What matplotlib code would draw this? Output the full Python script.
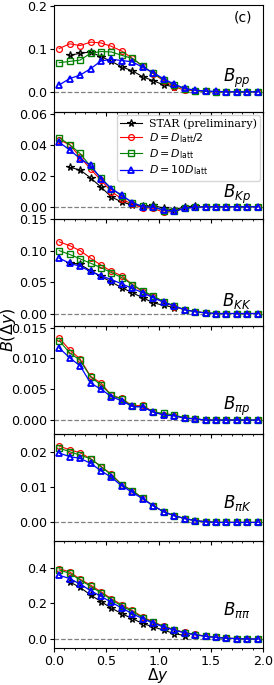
import numpy as np
import matplotlib
matplotlib.use("Agg")
import matplotlib.pyplot as plt
from matplotlib.ticker import MultipleLocator

dy = np.arange(0.05, 2.0, 0.1)

# B_pp
pp_star = [0.085, 0.090, 0.093, 0.082, 0.071, 0.058, 0.049, 0.035, 0.026, 0.016, 0.012]
pp_half = [0.101, 0.112, 0.108, 0.116, 0.114, 0.106, 0.095, 0.078, 0.060, 0.042, 0.026, 0.012, 0.004, 0.003, 0.001, 0, 0, 0, 0, 0]
pp_one = [0.068, 0.071, 0.074, 0.090, 0.094, 0.093, 0.085, 0.078, 0.060, 0.043, 0.028, 0.016, 0.007, 0.003, 0.001, 0, 0, 0, 0, 0]
pp_ten = [0.016, 0.031, 0.039, 0.054, 0.072, 0.076, 0.073, 0.070, 0.057, 0.045, 0.030, 0.018, 0.008, 0.004, 0.002, 0.001, 0, 0, 0, 0]

# B_Kp
kp_star = [0.0254, 0.0237, 0.0186, 0.0127, 0.0063, 0.0030, 0.0012, 0.0002, 0.0010, -0.0010, -0.0020, 0.0000, 0.0004]
kp_half = [0.0430, 0.0400, 0.0320, 0.0243, 0.0170, 0.0098, 0.0050, 0.0015, -0.0005, -0.0010, -0.0036, -0.0030, -0.0010, -0.0003, 0, 0, 0, 0, 0, 0]
kp_one = [0.0444, 0.0400, 0.0343, 0.0260, 0.0186, 0.0116, 0.0070, 0.0027, 0.0002, 0.0000, -0.0025, -0.0030, -0.0010, -0.0002, 0, 0, 0, 0, 0, 0]
kp_ten = [0.0415, 0.0366, 0.0310, 0.0267, 0.0180, 0.0116, 0.0074, 0.0027, 0.0000, -0.0003, -0.0020, -0.0028, -0.0010, -0.0002, 0, 0, 0, 0, 0, 0]

# B_KK
kk_star = [0.081, 0.078, 0.068, 0.059, 0.050, 0.041, 0.033, 0.025, 0.017, 0.013, 0.0095]
kk_half = [0.114, 0.108, 0.100, 0.088, 0.077, 0.067, 0.060, 0.046, 0.034, 0.026, 0.018, 0.011, 0.006, 0.003, 0.001, 0, 0, 0, 0, 0]
kk_one = [0.100, 0.094, 0.087, 0.080, 0.073, 0.065, 0.057, 0.046, 0.036, 0.028, 0.019, 0.012, 0.006, 0.003, 0.001, 0, 0, 0, 0, 0]
kk_ten = [0.088, 0.080, 0.075, 0.067, 0.060, 0.054, 0.047, 0.040, 0.033, 0.025, 0.018, 0.012, 0.006, 0.003, 0.001, 0, 0, 0, 0, 0]

# B_pi p
pip_half = [0.0133, 0.0114, 0.0099, 0.0071, 0.0060, 0.0040, 0.0035, 0.0023, 0.0024, 0.0013, 0.0009, 0.0007, 0.0003, 0.0002, 0, 0, 0, 0, 0, 0]
pip_one = [0.0129, 0.0109, 0.0097, 0.0070, 0.0057, 0.0040, 0.0034, 0.0022, 0.0022, 0.0013, 0.0011, 0.0008, 0.0004, 0.0002, 0, 0, 0, 0, 0, 0]
pip_ten = [0.0117, 0.0101, 0.0088, 0.0060, 0.0050, 0.0038, 0.0031, 0.0022, 0.0021, 0.0013, 0.0008, 0.0007, 0.0003, 0.0002, 0, 0, 0, 0, 0, 0]

# B_pi K
pik_half = [0.0216, 0.0205, 0.0197, 0.0180, 0.0158, 0.0136, 0.0106, 0.0090, 0.0068, 0.0047, 0.0030, 0.0019, 0.0011, 0.0005, 0.0002, 0, 0, 0, 0, 0]
pik_one = [0.0210, 0.0200, 0.0190, 0.0180, 0.0158, 0.0134, 0.0106, 0.0090, 0.0068, 0.0047, 0.0030, 0.0019, 0.0011, 0.0005, 0.0002, 0, 0, 0, 0, 0]
pik_ten = [0.0196, 0.0186, 0.0181, 0.0167, 0.0146, 0.0127, 0.0103, 0.0085, 0.0066, 0.0047, 0.0030, 0.0019, 0.0011, 0.0005, 0.0002, 0, 0, 0, 0, 0]

# B_pi pi
pipi_star = [0.320, 0.289, 0.247, 0.210, 0.173, 0.142, 0.114, 0.087, 0.068, 0.050, 0.031, 0.020]
pipi_half = [0.394, 0.376, 0.335, 0.302, 0.265, 0.225, 0.192, 0.160, 0.123, 0.096, 0.072, 0.053, 0.037, 0.026, 0.017, 0.010, 0.005, 0.003, 0.001, 0.000]
pipi_one = [0.387, 0.368, 0.331, 0.295, 0.258, 0.221, 0.184, 0.155, 0.119, 0.093, 0.070, 0.052, 0.036, 0.025, 0.016, 0.009, 0.005, 0.003, 0.001, 0.000]
pipi_ten = [0.357, 0.339, 0.308, 0.271, 0.239, 0.206, 0.173, 0.142, 0.114, 0.089, 0.067, 0.050, 0.035, 0.024, 0.015, 0.009, 0.005, 0.002, 0.001, 0.000]

panels = [
    (r"$B_{pp}$", pp_star, pp_half, pp_one, pp_ten, (-0.047, 0.203), 0.1, 0.31),
    (r"$B_{Kp}$", kp_star, kp_half, kp_one, kp_ten, (-0.008, 0.061), 0.02, 0.23),
    (r"$B_{KK}$", kk_star, kk_half, kk_one, kk_ten, (-0.0205, 0.15), 0.05, 0.24),
    (r"$B_{\pi p}$", None, pip_half, pip_one, pip_ten, (-0.0022, 0.0152), 0.005, 0.25),
    (r"$B_{\pi K}$", None, pik_half, pik_one, pik_ten, (-0.0052, 0.0251), 0.01, 0.35),
    (r"$B_{\pi\pi}$", pipi_star, pipi_half, pipi_one, pipi_ten, (-0.05, 0.55), 0.2, 0.35),
]

fig, axes = plt.subplots(6, 1, figsize=(2.74, 6.85), dpi=100, sharex=True)
fig.subplots_adjust(left=0.197, right=0.96, top=0.993, bottom=0.054, hspace=0)

for ax, (name, star, half, one, ten, ylim, step, ty) in zip(axes, panels):
    ax.set_facecolor("none")
    ax.axhline(0, color="gray", ls="--", lw=0.9, zorder=0)
    if star is not None:
        ax.plot(dy[1:1 + len(star)], star, color="k", marker="*", ms=5.5, mfc="none",
                mew=0.9, lw=0.8, label="STAR (preliminary)")
    ax.plot(dy, half, color="red", marker="o", ms=4.2, mfc="none", mew=0.9, lw=0.8,
            label=r"$D = D_{\rm latt}/2$")
    ax.plot(dy, one, color="green", marker="s", ms=4.2, mfc="none", mew=1.0, lw=0.8,
            label=r"$D = D_{\rm latt}$")
    ax.plot(dy, ten, color="blue", marker="^", ms=4.5, mfc="none", mew=1.3, lw=0.9,
            label=r"$D = 10D_{\rm latt}$")
    ax.set_ylim(*ylim)
    ax.yaxis.set_major_locator(MultipleLocator(step))
    ax.tick_params(labelsize=9.1, length=3, pad=2)
    ax.tick_params(which="minor", length=1.6)
    ax.text(0.875, ty, name, transform=ax.transAxes, ha="center", va="center", fontsize=12)

axes[0].set_xlim(0, 2.0)
axes[0].xaxis.set_major_locator(MultipleLocator(0.5))
axes[0].xaxis.set_minor_locator(MultipleLocator(0.1))
axes[0].text(0.905, 0.885, "(c)", transform=axes[0].transAxes, ha="center", va="center", fontsize=10)

leg = axes[1].legend(loc="upper right", fontsize=7.9, handlelength=2.0, borderpad=0.3,
                     labelspacing=0.22, handletextpad=0.6, borderaxespad=0.25)
leg.get_texts()[0].set_family("DejaVu Serif")

fig.text(0.575, 0.0, r"$\Delta y$", ha="center", va="bottom", fontsize=11)
fig.text(0.031, 0.518, r"$B(\Delta y)$", rotation=90, ha="center", va="center", fontsize=11.5)

plt.savefig("out.png", dpi=100)
